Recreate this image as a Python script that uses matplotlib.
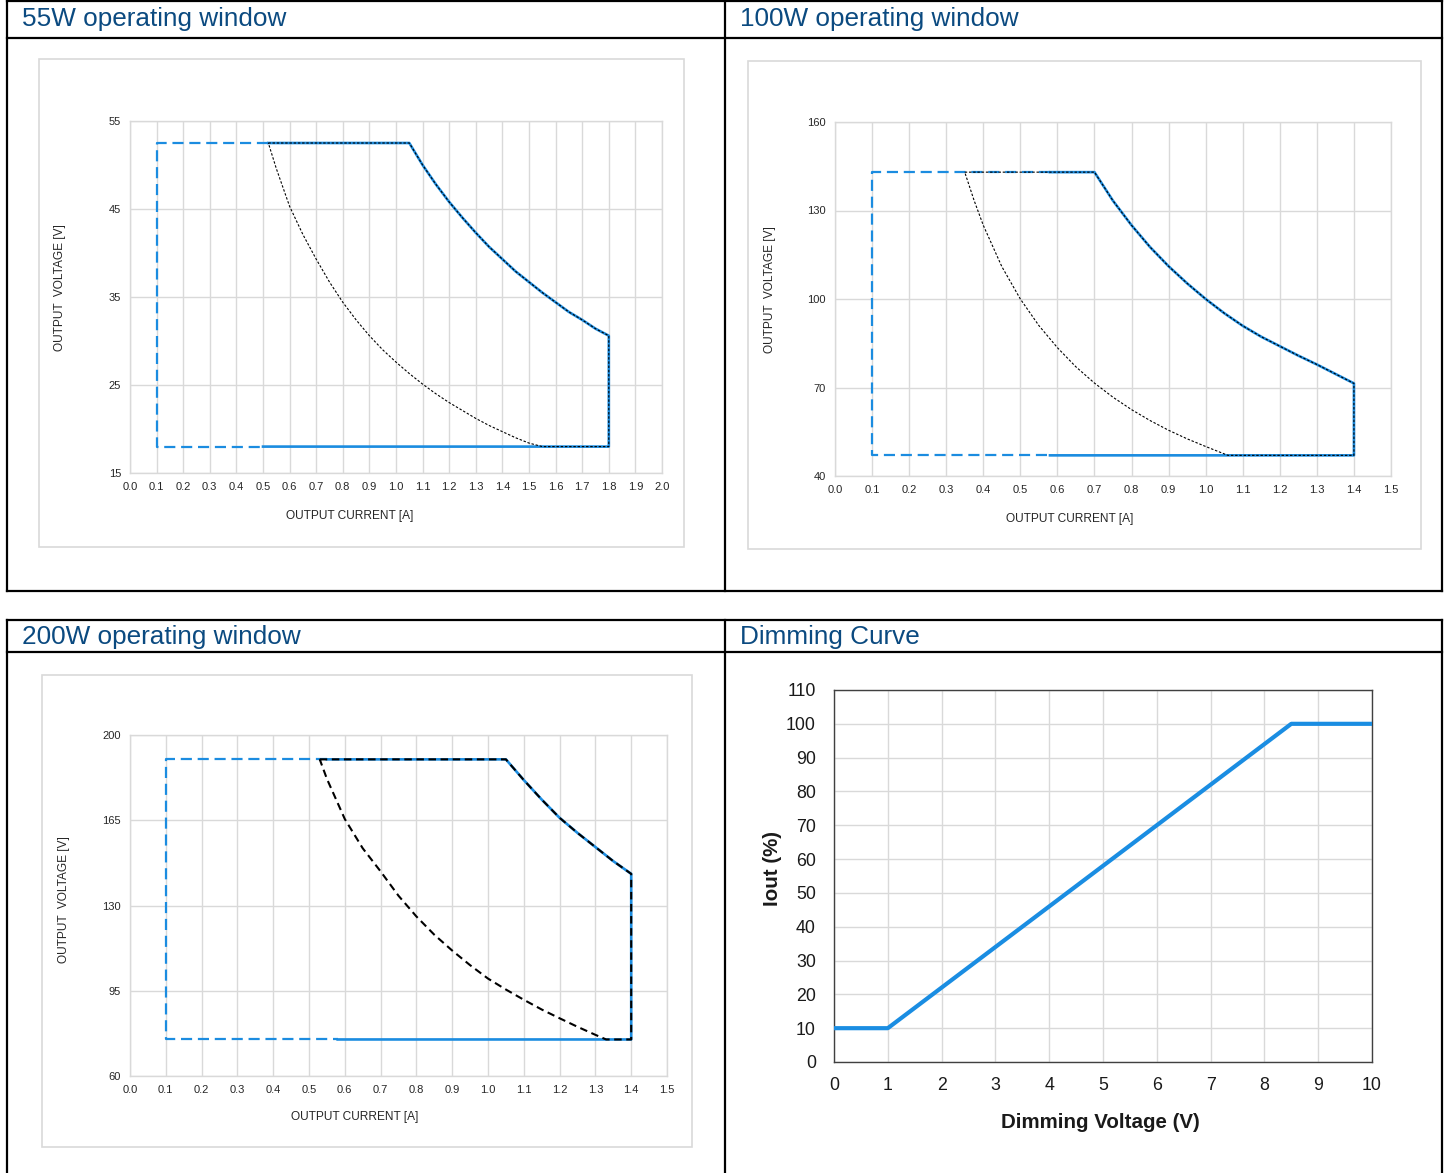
import numpy as np
import matplotlib
matplotlib.use("Agg")
import matplotlib.pyplot as plt
from matplotlib.patches import Rectangle

plt.rcParams['font.family'] = ['Liberation Sans', 'DejaVu Sans']

W, H = 1451, 1173
BLUE = '#1b8ce0'
HEAD = '#0b4a80'
GRID = '#d9d9d9'

# ---- data ----
titles = ["55W operating window", "100W operating window",
          "200W operating window", "Dimming Curve"]

# 55W
w55_xticks = [round(0.1 * k, 1) for k in range(21)]
w55_yticks = [15, 25, 35, 45, 55]
w55_box = [0.1, 18.0, 52.5, 1.8]          # i_min, v_min, v_max, i_max
w55_solid_from = [0.52, 0.50]             # top, bottom
w55_outer_i = [1.05, 1.10, 1.15, 1.20, 1.25, 1.30, 1.35, 1.40, 1.45, 1.50,
               1.55, 1.60, 1.65, 1.70, 1.75, 1.80]
w55_outer_v = [52.5, 50.0, 47.8, 45.8, 44.0, 42.3, 40.7, 39.3, 37.9, 36.7,
               35.5, 34.4, 33.3, 32.4, 31.4, 30.6]
w55_inner_i = [0.52, 0.55, 0.60, 0.65, 0.70, 0.75, 0.80, 0.85, 0.90, 0.95, 1.00,
               1.05, 1.10, 1.15, 1.20, 1.25, 1.30, 1.35, 1.40, 1.45, 1.50, 1.55]
w55_inner_v = [52.5, 49.6, 45.3, 42.1, 39.3, 36.7, 34.4, 32.4, 30.6, 29.0, 27.6,
               26.3, 25.1, 24.0, 23.0, 22.1, 21.2, 20.4, 19.7, 19.0, 18.4, 18.0]

# 100W
w100_xticks = [round(0.1 * k, 1) for k in range(16)]
w100_yticks = [40, 70, 100, 130, 160]
w100_box = [0.1, 47.0, 143.0, 1.4]
w100_solid_from = [0.58, 0.58]
w100_outer_i = [0.70, 0.75, 0.80, 0.85, 0.90, 0.95, 1.00, 1.05, 1.10, 1.15,
                1.20, 1.25, 1.30, 1.35, 1.40]
w100_outer_v = [143.0, 133.3, 125.0, 117.6, 111.1, 105.3, 100.0, 95.2, 90.9, 87.2,
                84.0, 80.8, 77.8, 74.6, 71.4]
w100_inner_i = [0.35, 0.375, 0.40, 0.45, 0.50, 0.55, 0.60, 0.65, 0.70, 0.75,
                0.80, 0.85, 0.90, 0.95, 1.00, 1.06]
w100_inner_v = [143.0, 133.5, 125.0, 111.0, 100.0, 91.0, 83.5, 77.0, 71.5, 66.7,
                62.5, 58.8, 55.5, 52.6, 50.0, 47.0]

# 200W
w200_xticks = [round(0.1 * k, 1) for k in range(16)]
w200_yticks = [60, 95, 130, 165, 200]
w200_box = [0.1, 75.0, 190.0, 1.4]
w200_solid_from = [0.55, 0.58]
w200_outer_i = [1.05, 1.10, 1.15, 1.20, 1.25, 1.30, 1.35, 1.40]
w200_outer_v = [190.0, 181.5, 173.5, 166.0, 159.8, 154.0, 148.2, 143.0]
w200_inner_i = [0.53, 0.55, 0.60, 0.65, 0.70, 0.75, 0.80, 0.85, 0.90, 0.95,
                1.00, 1.05, 1.10, 1.15, 1.20, 1.25, 1.30, 1.33]
w200_inner_v = [190.0, 182.0, 165.5, 153.5, 144.0, 134.0, 125.5, 118.0, 111.5, 105.5,
                100.0, 95.5, 91.3, 87.3, 83.7, 80.2, 76.9, 75.0]

# Dimming
dim_v = [0, 1, 8.5, 10]
dim_iout = [10, 10, 100, 100]
dim_xticks = list(range(0, 11))
dim_yticks = list(range(0, 111, 10))


fig = plt.figure(figsize=(W / 100, H / 100), dpi=100)
bg = fig.add_axes([0, 0, 1, 1])
bg.set_xlim(0, W)
bg.set_ylim(H, 0)
bg.axis('off')


def px_axes(x0, y0, x1, y1):
    return fig.add_axes([x0 / W, 1 - y1 / H, (x1 - x0) / W, (y1 - y0) / H])


# table borders
lk = dict(color='black', lw=1.6, solid_capstyle='projecting')
for y in (1, 38, 591):
    bg.plot([7, 1442], [y, y], **lk)
for x in (7, 725, 1442):
    bg.plot([x, x], [1, 591], **lk)
for y in (620, 652):
    bg.plot([7, 1442], [y, y], **lk)
for x in (7, 725, 1442):
    bg.plot([x, x], [620, H + 5], **lk)

for (tx, ty), t in zip([(22, 19), (740, 19), (22, 637), (740, 637)], titles):
    bg.text(tx, ty, t, color=HEAD, fontsize=18.8, ha='left', va='center')

# light chart frames
for x0, y0, x1, y1 in [(39, 59, 684, 547), (748, 61, 1421, 549), (42, 675, 692, 1147)]:
    bg.add_patch(Rectangle((x0, y0), x1 - x0, y1 - y0, fill=False, ec=GRID, lw=1.2))


def draw_window(ax, xticks, yticks, box, solid_from, oi, ov, ii, iv, black):
    i_lo, v_lo, v_hi, i_hi = box
    ax.set_xlim(xticks[0], xticks[-1])
    ax.set_ylim(yticks[0], yticks[-1])
    ax.set_xticks(xticks)
    ax.set_xticklabels([f"{t:.1f}" for t in xticks])
    ax.set_yticks(yticks)
    ax.grid(True, color=GRID, lw=1.0)
    ax.set_axisbelow(True)
    for s in ax.spines.values():
        s.set_color(GRID)
        s.set_linewidth(1.0)
    ax.tick_params(length=0, labelsize=8, labelcolor='#262626', pad=6.5)

    # dashed extension (low current range)
    ax.plot([solid_from[0], i_lo, i_lo, solid_from[1]], [v_hi, v_hi, v_lo, v_lo],
            color=BLUE, lw=1.6, ls=(0, (5, 2.6)), zorder=3)
    # solid outer boundary
    xs = [solid_from[0]] + oi + [i_hi, solid_from[1]]
    ys = [v_hi] + ov + [v_lo, v_lo]
    ax.plot(xs, ys, color=BLUE, lw=1.9, zorder=3, solid_joinstyle='round')
    # black region (min power curve + max boundary)
    bx = [ii[0]] + oi + [i_hi] + ii[::-1]
    by = [v_hi] + ov + [v_lo] + iv[::-1]
    ax.plot(bx, by, color='black', zorder=4, **black)


fine = dict(lw=0.8, ls=(0, (2.2, 1.6)))
thick = dict(lw=1.5, ls=(0, (3.6, 2.2)))

ax1 = px_axes(130, 121, 662, 473)
draw_window(ax1, w55_xticks, w55_yticks, w55_box, w55_solid_from,
            w55_outer_i, w55_outer_v, w55_inner_i, w55_inner_v, fine)
ax2 = px_axes(835, 122, 1391, 476)
draw_window(ax2, w100_xticks, w100_yticks, w100_box, w100_solid_from,
            w100_outer_i, w100_outer_v, w100_inner_i, w100_inner_v, fine)
ax3 = px_axes(130, 735, 667, 1076)
draw_window(ax3, w200_xticks, w200_yticks, w200_box, w200_solid_from,
            w200_outer_i, w200_outer_v, w200_inner_i, w200_inner_v, thick)

lab = dict(fontsize=8.6, color='#262626', ha='center', va='center')
for (xx, xy), (yx, yy) in [((350, 516), (60, 288)), ((1070, 519), (770, 290)),
                           ((355, 1117), (64, 900))]:
    bg.text(xx, xy, "OUTPUT CURRENT [A]", **lab)
    bg.text(yx, yy, "OUTPUT  VOLTAGE [V]", rotation=90, **lab)

# dimming curve
ax4 = px_axes(834, 690, 1372, 1062)
ax4.plot(dim_v, dim_iout, color='#1a8de2', lw=3.0, solid_capstyle='butt', zorder=3)
ax4.set_xlim(0, 10)
ax4.set_ylim(0, 110)
ax4.set_xticks(dim_xticks)
ax4.set_yticks(dim_yticks)
ax4.grid(True, color=GRID, lw=1.0)
ax4.set_axisbelow(True)
for s in ax4.spines.values():
    s.set_color('#404040')
    s.set_linewidth(1.0)
ax4.tick_params(length=0, labelsize=12.8, labelcolor='#1a1a1a')
ax4.tick_params(axis='y', pad=13)
ax4.tick_params(axis='x', pad=11)
bg.text(1100, 1122, "Dimming Voltage (V)", fontsize=14.8, fontweight='bold',
        ha='center', va='center', color='#1a1a1a')
bg.text(772, 868, "Iout (%)", fontsize=14.8, fontweight='bold', rotation=90,
        ha='center', va='center', color='#1a1a1a')

fig.savefig("out.png", dpi=100)
